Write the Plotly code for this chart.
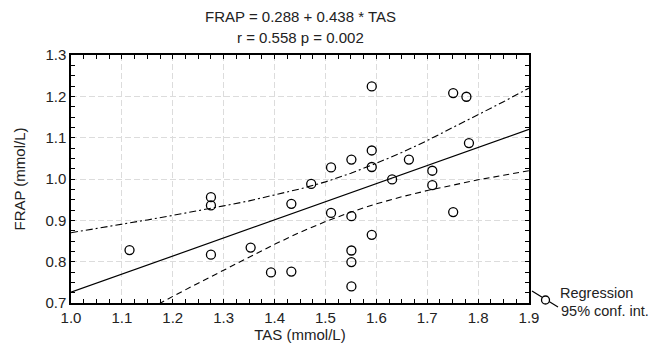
import plotly.graph_objects as go

# ---- data ----
tas = [1.115, 1.275, 1.275, 1.275, 1.353, 1.393, 1.433, 1.433, 1.472, 1.511,
       1.511, 1.551, 1.551, 1.551, 1.551, 1.551, 1.591, 1.591, 1.591, 1.591,
       1.631, 1.664, 1.710, 1.710, 1.751, 1.751, 1.777, 1.782]
frap = [0.828, 0.956, 0.936, 0.817, 0.834, 0.774, 0.776, 0.940, 0.988, 1.028,
        0.918, 1.047, 0.910, 0.827, 0.799, 0.740, 1.224, 1.069, 1.029, 0.865,
        0.999, 1.047, 1.020, 0.985, 1.208, 0.920, 1.199, 1.087]

reg_x = [1.0, 1.9]
reg_y = [0.726, 1.120]

band_x = [1.00, 1.05, 1.10, 1.15, 1.20, 1.25, 1.30, 1.35, 1.40, 1.45,
          1.50, 1.55, 1.60, 1.65, 1.70, 1.75, 1.80, 1.85, 1.90]
band_upper = [0.870, 0.880, 0.890, 0.901, 0.912, 0.923, 0.935, 0.947, 0.961, 0.976,
              0.993, 1.014, 1.038, 1.064, 1.093, 1.124, 1.155, 1.187, 1.220]
band_lower = [0.582, 0.616, 0.649, 0.683, 0.716, 0.748, 0.780, 0.812, 0.842, 0.871,
              0.897, 0.920, 0.940, 0.957, 0.972, 0.985, 0.998, 1.009, 1.020]

title_lines = ["FRAP = 0.288 + 0.438 * TAS", "r = 0.558 p = 0.002"]
x_title = "TAS (mmol/L)"
y_title = "FRAP (mmol/L)"
legend_labels = ["Regression", "95% conf. int."]

FONT = "Liberation Sans, Arial, sans-serif"
FS = 15
FS_LEG = 14.5

W, H = 656, 345
L, R, T, B = 71, 127, 55, 42
pw, ph = W - L - R, H - T - B


def px(xp):
    return (xp - L) / pw


def py(yp):
    return (H - B - yp) / ph


fig = go.Figure()
fig.add_trace(go.Scatter(x=band_x, y=band_upper, mode="lines",
                         line=dict(color="black", width=1.1, dash="7px,3px,2px,3px"),
                         showlegend=False, hoverinfo="skip"))
fig.add_trace(go.Scatter(x=band_x, y=band_lower, mode="lines",
                         line=dict(color="black", width=1.1, dash="6px,4px"),
                         showlegend=False, hoverinfo="skip"))
fig.add_trace(go.Scatter(x=reg_x, y=reg_y, mode="lines",
                         line=dict(color="black", width=1.2),
                         showlegend=False, hoverinfo="skip"))
fig.add_trace(go.Scatter(x=tas, y=frap, mode="markers",
                         marker=dict(symbol="circle-open", size=9, color="black",
                                     line=dict(width=1.3, color="black")),
                         showlegend=False))

axis_common = dict(
    showline=True, linecolor="black", linewidth=1.5, mirror="allticks",
    ticks="inside", ticklen=4, tickwidth=1, tickcolor="black",
    showgrid=True, gridcolor="#dcdcdc", gridwidth=1, griddash="6px,3px",
    zeroline=False, tickformat=".1f", automargin=False,
    tickfont=dict(family=FONT, size=FS, color="#222"),
    minor=dict(dtick=0.025, ticks="inside", ticklen=4, tickwidth=1,
               tickcolor="black", showgrid=False),
)

fig.update_xaxes(range=[1.0, 1.9], dtick=0.1, tick0=1.0,
                 title=dict(text=x_title, font=dict(family=FONT, size=FS, color="#222"),
                            standoff=4),
                 **axis_common)
fig.update_yaxes(range=[0.7, 1.3], dtick=0.1, tick0=0.7,
                 title=dict(text=y_title, font=dict(family=FONT, size=FS, color="#222"),
                            standoff=16),
                 **axis_common)

# legend (Statistica style): line through a circle, two text lines
shapes = [
    dict(type="line", xref="paper", yref="paper",
         x0=px(532), y0=py(291), x1=px(558), y1=py(307),
         line=dict(color="black", width=1.2)),
    dict(type="circle", xref="paper", yref="paper",
         x0=px(541.5), y0=py(304), x1=px(549.5), y1=py(296),
         line=dict(color="black", width=1.3), fillcolor="white"),
]
annotations = [
    dict(text=legend_labels[0], xref="paper", yref="paper", x=px(558), y=py(293),
         xanchor="left", yanchor="middle", showarrow=False,
         font=dict(family=FONT, size=FS_LEG, color="#222")),
    dict(text=legend_labels[1], xref="paper", yref="paper", x=px(559), y=py(311),
         xanchor="left", yanchor="middle", showarrow=False,
         font=dict(family=FONT, size=FS_LEG, color="#222")),
    dict(text=title_lines[0], xref="paper", yref="paper", x=px(300), y=py(16.5),
         xanchor="center", yanchor="middle", showarrow=False,
         font=dict(family=FONT, size=FS, color="#222")),
    dict(text=title_lines[1], xref="paper", yref="paper", x=px(300), y=py(37.5),
         xanchor="center", yanchor="middle", showarrow=False,
         font=dict(family=FONT, size=FS, color="#222")),
]

fig.update_layout(
    width=W, height=H,
    margin=dict(l=L, r=R, t=T, b=B, pad=0, autoexpand=False),
    paper_bgcolor="white", plot_bgcolor="white",
    shapes=shapes, annotations=annotations,
    showlegend=False,
)

fig.write_html("out.html",
               config={"displayModeBar": False},
               post_script="document.body.style.margin='0';document.body.style.padding='0';")
